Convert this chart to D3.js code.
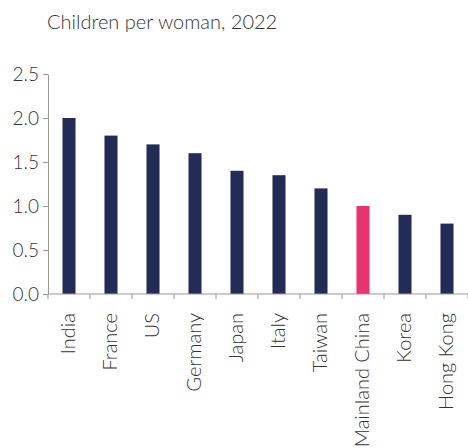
<!DOCTYPE html>
<html>
<head>
<meta charset="utf-8">
<script src="https://cdn.jsdelivr.net/npm/d3@7"></script>
<style>
    body { margin: 0; background: #fff; }
    text { font-family: Lato, "Open Sans", sans-serif; font-weight: 300; fill: #333; }
</style>
</head>
<body>
<script>
const countries = ["India", "France", "US", "Germany", "Japan", "Italy", "Taiwan", "Mainland China", "Korea", "Hong Kong"];
const fertility = [2.0, 1.8, 1.7, 1.6, 1.4, 1.35, 1.2, 1.0, 0.9, 0.8];
const yTicks = [0, 0.5, 1.0, 1.5, 2.0, 2.5];
const highlight = "Mainland China";

const svgSize = { width: 468, height: 448 };
const margin = { top: 74, left: 48, bottom: 154 };

const svg = d3.select('body')
    .append('svg')
    .attr('width', svgSize.width)
    .attr('height', svgSize.height);

const xScale = d3.scaleBand()
    .domain(countries)
    .range([margin.left, svgSize.width])
    .paddingInner(0.69)
    .paddingOuter(0.345);

const yScale = d3.scaleLinear()
    .domain([0, 2.5])
    .range([svgSize.height - margin.bottom, margin.top]);

// title
svg.append('text')
    .attr('x', 47)
    .attr('y', 29)
    .style('font-size', '20px')
    .text('Children per woman, 2022');

// bars
svg.selectAll('rect.bar')
    .data(countries.map((c, i) => ({ name: c, value: fertility[i] })))
    .enter()
    .append('rect')
    .attr('class', 'bar')
    .attr('x', d => xScale(d.name))
    .attr('y', d => yScale(d.value))
    .attr('width', xScale.bandwidth())
    .attr('height', d => yScale(0) - yScale(d.value))
    .attr('fill', d => d.name === highlight ? '#e8336f' : '#222c57');

// y axis
const yAxis = d3.axisLeft(yScale)
    .tickValues(yTicks)
    .tickFormat(d3.format('.1f'))
    .tickSize(5)
    .tickPadding(4)
    .tickSizeOuter(0);
const gy = svg.append('g')
    .attr('transform', `translate(${margin.left}, 0)`)
    .call(yAxis);
gy.selectAll('text').style('font-size', '19px').attr('fill', '#333');

// x axis with ticks at category boundaries
const step = xScale.step();
const boundaries = d3.range(countries.length + 1).map(i => margin.left + i * step);
const gx = svg.append('g')
    .attr('transform', `translate(0, ${yScale(0)})`);
gx.append('line')
    .attr('x1', margin.left).attr('x2', svgSize.width)
    .attr('y1', 0).attr('y2', 0)
    .attr('stroke', '#999');
gx.selectAll('line.tick')
    .data(boundaries)
    .enter()
    .append('line')
    .attr('class', 'tick')
    .attr('x1', d => d).attr('x2', d => d)
    .attr('y1', 0).attr('y2', 5)
    .attr('stroke', '#999');
gx.selectAll('text.label')
    .data(countries)
    .enter()
    .append('text')
    .attr('class', 'label')
    .attr('text-anchor', 'end')
    .attr('transform', d => `translate(${xScale(d) + xScale.bandwidth() / 2 + 6}, 19) rotate(-90)`)
    .style('font-size', '20px')
    .text(d => d);

gy.selectAll('path, line').attr('stroke', '#999');
</script>
</body>
</html>
